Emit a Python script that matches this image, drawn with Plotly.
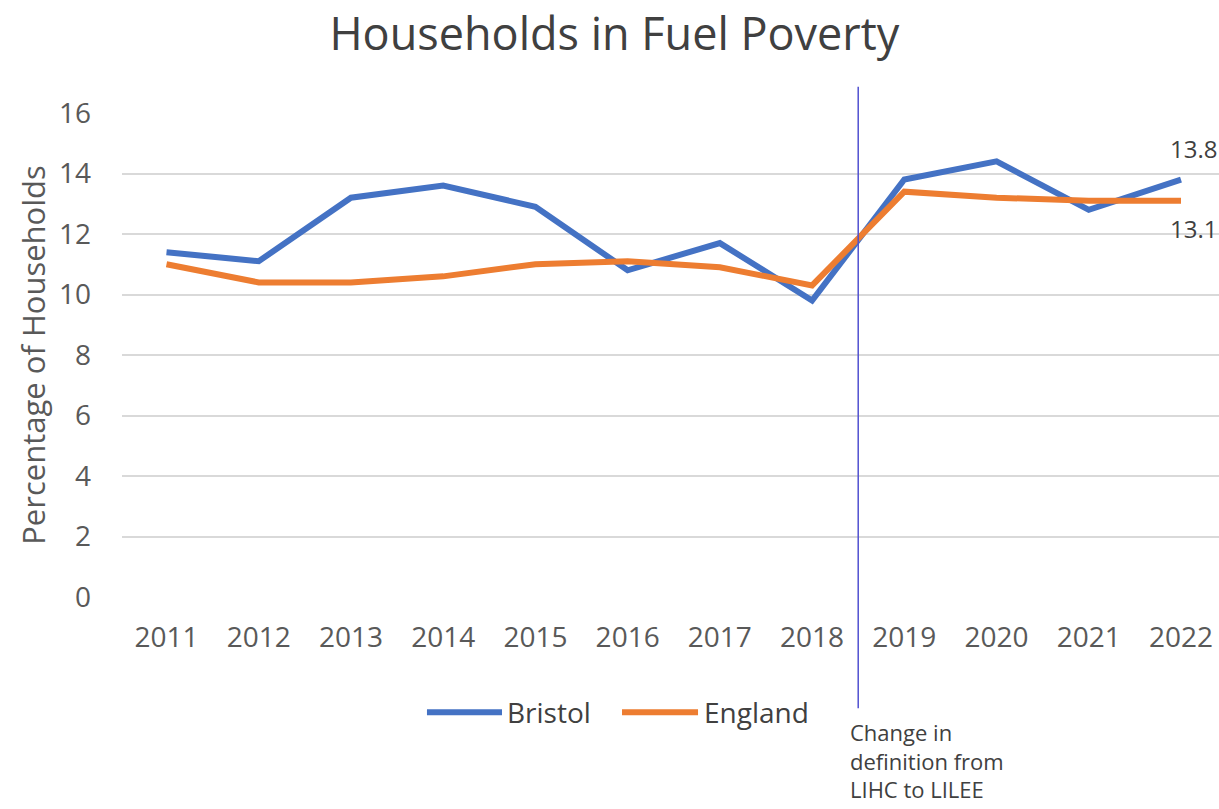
import plotly.graph_objects as go

years = [2011, 2012, 2013, 2014, 2015, 2016, 2017, 2018, 2019, 2020, 2021, 2022]
bristol = [11.4, 11.1, 13.2, 13.6, 12.9, 10.8, 11.7, 9.8, 13.8, 14.4, 12.8, 13.8]
england = [11.0, 10.4, 10.4, 10.6, 11.0, 11.1, 10.9, 10.3, 13.4, 13.2, 13.1, 13.1]
y_ticks = [0, 2, 4, 6, 8, 10, 12, 14, 16]
change_year = 2018.5
note_text = "Change in<br>definition from<br>LIHC to LILEE"
series_names = ["Bristol", "England"]
series_colors = ["#4472C4", "#ED7D31"]

FONT = "Open Sans"
GREY = "#595959"
DARK = "#404040"

fig = go.Figure()
for name, vals, col in zip(series_names, [bristol, england], series_colors):
    fig.add_trace(go.Scatter(x=years, y=vals, mode="lines", name=name,
                             line=dict(color=col, width=6), showlegend=False))

# definition-change marker
fig.add_shape(type="line", xref="x", yref="paper", x0=change_year, x1=change_year,
              y0=-0.230, y1=1.054, line=dict(color="#5050D0", width=1.5))

# end-point data labels
fig.add_annotation(x=years[-1], y=bristol[-1], xref="x", yref="y", text=str(bristol[-1]),
                   showarrow=False, yshift=31, xshift=12, font=dict(family=FONT, size=24, color=DARK))
fig.add_annotation(x=years[-1], y=england[-1], xref="x", yref="y", text=str(england[-1]),
                   showarrow=False, yshift=-28, xshift=12, font=dict(family=FONT, size=24, color=DARK))

# note below the marker
fig.add_annotation(x=0.6615, y=-0.2440, xref="paper", yref="paper", text=note_text, showarrow=False,
                   xanchor="left", yanchor="top", align="left",
                   font=dict(family=FONT, size=22, color=DARK))

# legend (drawn to match the long legend keys of the original)
leg_y = -0.238
leg_keys = [(0.278, 0.3464, 0.349), (0.4558, 0.5251, 0.5287)]
for (x0, x1, xt), name, col in zip(leg_keys, series_names, series_colors):
    fig.add_shape(type="line", xref="paper", yref="paper", x0=x0, x1=x1, y0=leg_y, y1=leg_y,
                  line=dict(color=col, width=6))
    fig.add_annotation(x=xt, y=leg_y, xref="paper", yref="paper", text=name, showarrow=False,
                       xanchor="left", yanchor="middle", font=dict(family=FONT, size=28, color=DARK))

fig.update_layout(
    width=1219, height=809,
    margin=dict(l=122, r=0, t=113, b=212),
    paper_bgcolor="white", plot_bgcolor="white",
    title=dict(text="Households in Fuel Poverty", x=0.504, xanchor="center", y=0.958, yanchor="middle",
               font=dict(family=FONT, size=45, color=DARK)),
    showlegend=False,
    font=dict(family=FONT),
)
fig.update_xaxes(range=[2010.5175, 2022.412], tickmode="array", tickvals=years,
                 ticktext=[str(y) for y in years], showgrid=False, zeroline=False,
                 showline=False, ticks="", ticklabelstandoff=21,
                 tickfont=dict(family=FONT, size=28, color=GREY))
fig.update_yaxes(range=[0, 16], tickmode="array", tickvals=y_ticks, showgrid=True,
                 gridcolor="#D9D9D9", gridwidth=1.5, zeroline=False, showline=False, ticks="",
                 ticklabelstandoff=30, tickfont=dict(family=FONT, size=28, color=GREY),
                 title=dict(text="Percentage of Households", standoff=4,
                            font=dict(family=FONT, size=31, color=GREY)))

fig.write_html("out.html", config={"displayModeBar": False},
               post_script="document.body.style.margin='0';document.body.style.overflow='hidden';")
